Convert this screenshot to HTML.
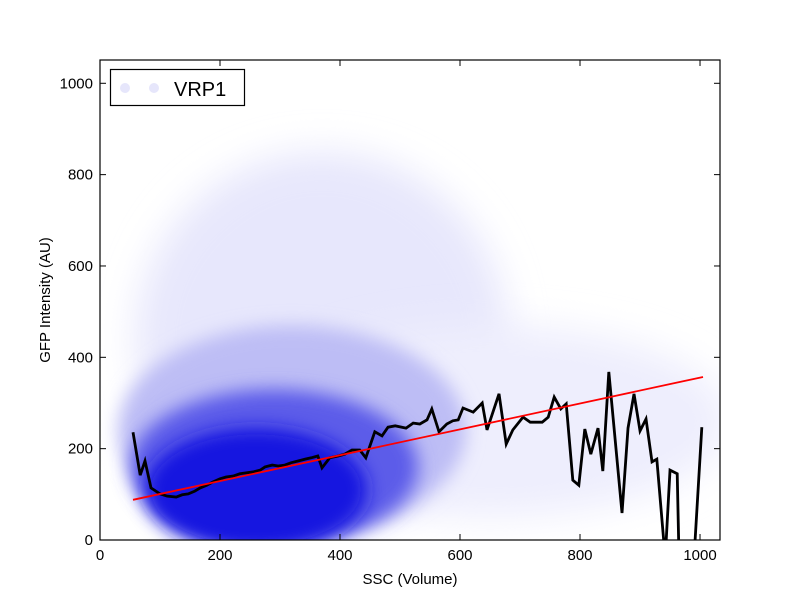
<!DOCTYPE html>
<html><head><meta charset="utf-8"><style>
body{margin:0;background:#fff;}
svg text{font-family:"Liberation Sans",sans-serif;}
</style></head><body>
<svg id="chart" width="800" height="600" viewBox="0 0 800 600">
<defs>
<clipPath id="plotclip"><rect x="100" y="60" width="620" height="480"/></clipPath>
<filter id="blur1" x="-50%" y="-50%" width="200%" height="200%"><feGaussianBlur stdDeviation="18"/></filter>
<filter id="blur2" x="-50%" y="-50%" width="200%" height="200%"><feGaussianBlur stdDeviation="9"/></filter>
</defs>
<rect x="0" y="0" width="800" height="600" fill="#fff"/>
<g id="cloud" clip-path="url(#plotclip)"></g>
<g id="lines" clip-path="url(#plotclip)"></g>
<rect x="100" y="60" width="620" height="480" fill="none" stroke="#000" stroke-width="1.2"/>
<g id="ticks"></g>
<text x="410" y="584" text-anchor="middle" font-size="15">SSC (Volume)</text>
<text x="0" y="0" transform="translate(50,300) rotate(-90)" text-anchor="middle" font-size="15">GFP Intensity (AU)</text>
<g>
<rect x="110.5" y="69.5" width="134" height="36" fill="#fff" stroke="#000" stroke-width="1.2"/>
<circle cx="125" cy="88" r="5" fill="#e6e6fb"/>
<circle cx="154" cy="88" r="5" fill="#e6e6fb"/>
<text x="174" y="96" font-size="20">VRP1</text>
</g>
</svg>
<script>
const xTicks=[0,200,400,600,800,1000];
const yTicks=[0,200,400,600,800,1000];
const lineX=[55,67,75,85,100,112,127,137,147,158,167,178,188,200,210,222,233,243,255,267,275,287,297,308,318,330,342,352,363,370,383,397,408,420,433,443,458,470,480,492,510,522,533,545,553,565,578,588,597,605,622,637,645,665,677,688,705,717,737,747,757,768,777,788,798,808,818,830,838,848,870,880,890,900,910,920,928,942,950,962,965,990,1003];
const lineY=[236,142,173,114,101,96,94,99,101,107,114,120,127,134,138,140,145,147,149,153,160,164,162,164,169,173,177,180,184,158,180,184,188,197,197,180,237,228,247,250,245,256,254,263,287,237,254,261,263,289,280,300,241,320,210,241,269,258,258,269,313,287,298,131,120,243,188,245,151,368,59,245,320,239,265,171,177,-40,153,145,-40,-40,247];
const fitX=[55,1005];
const fitY=[88,357];
const densCX=[370,650,320,290,260];
const densCY=[440,260,240,160,110];
const densRX=[310,400,290,240,185];
const densRY=[410,210,230,170,135];
const densColor=['#e7e7fc','#eeeefd','#bdbdf5','#5c5ce9','#1414e0'];
const NS='http://www.w3.org/2000/svg';
const X0=100,X1=720,Y0=540,Y1=60,XMAX=1033.3,YMAX=1051;
const sx=v=>X0+v/XMAX*(X1-X0);
const sy=v=>Y0-v/YMAX*(Y0-Y1);
function mk(t,a){const e=document.createElementNS(NS,t);for(const k in a)e.setAttribute(k,a[k]);return e;}
const cloud=document.getElementById('cloud');
for(let i=0;i<densCX.length;i++){
  const e=mk('ellipse',{cx:sx(densCX[i]),cy:sy(densCY[i]),rx:densRX[i]/XMAX*620,ry:densRY[i]/YMAX*480,fill:densColor[i],filter:i<2?'url(#blur1)':'url(#blur2)'});
  
  
  cloud.appendChild(e);
}
const lines=document.getElementById('lines');
const fit=mk('polyline',{points:fitX.map((x,i)=>sx(x)+','+sy(fitY[i])).join(' '),fill:'none',stroke:'#ff0000','stroke-width':1.8});


const mean=mk('polyline',{points:lineX.map((x,i)=>sx(x)+','+sy(lineY[i])).join(' '),fill:'none',stroke:'#000','stroke-width':2.8,'stroke-linejoin':'miter'});


lines.appendChild(mean);
lines.appendChild(fit);
const ticks=document.getElementById('ticks');
xTicks.forEach(v=>{
  const x=sx(v);
  const t1=mk('line',{x1:x,x2:x,y1:540,y2:534,stroke:'#000'});
  
  
  ticks.appendChild(t1);
  const t2=mk('line',{x1:x,x2:x,y1:60,y2:66,stroke:'#000'});
  
  
  ticks.appendChild(t2);
  const l=mk('text',{x:x,y:560,'text-anchor':'middle','font-size':15});
  l.textContent=v;
  
  
  ticks.appendChild(l);
});
yTicks.forEach(v=>{
  const y=sy(v);
  const t1=mk('line',{x1:100,x2:106,y1:y,y2:y,stroke:'#000'});
  
  
  ticks.appendChild(t1);
  const t2=mk('line',{x1:720,x2:714,y1:y,y2:y,stroke:'#000'});
  
  
  ticks.appendChild(t2);
  const l=mk('text',{x:93,y:y+5,'text-anchor':'end','font-size':15});
  l.textContent=v;
  
  
  ticks.appendChild(l);
});
</script>
</body></html>
